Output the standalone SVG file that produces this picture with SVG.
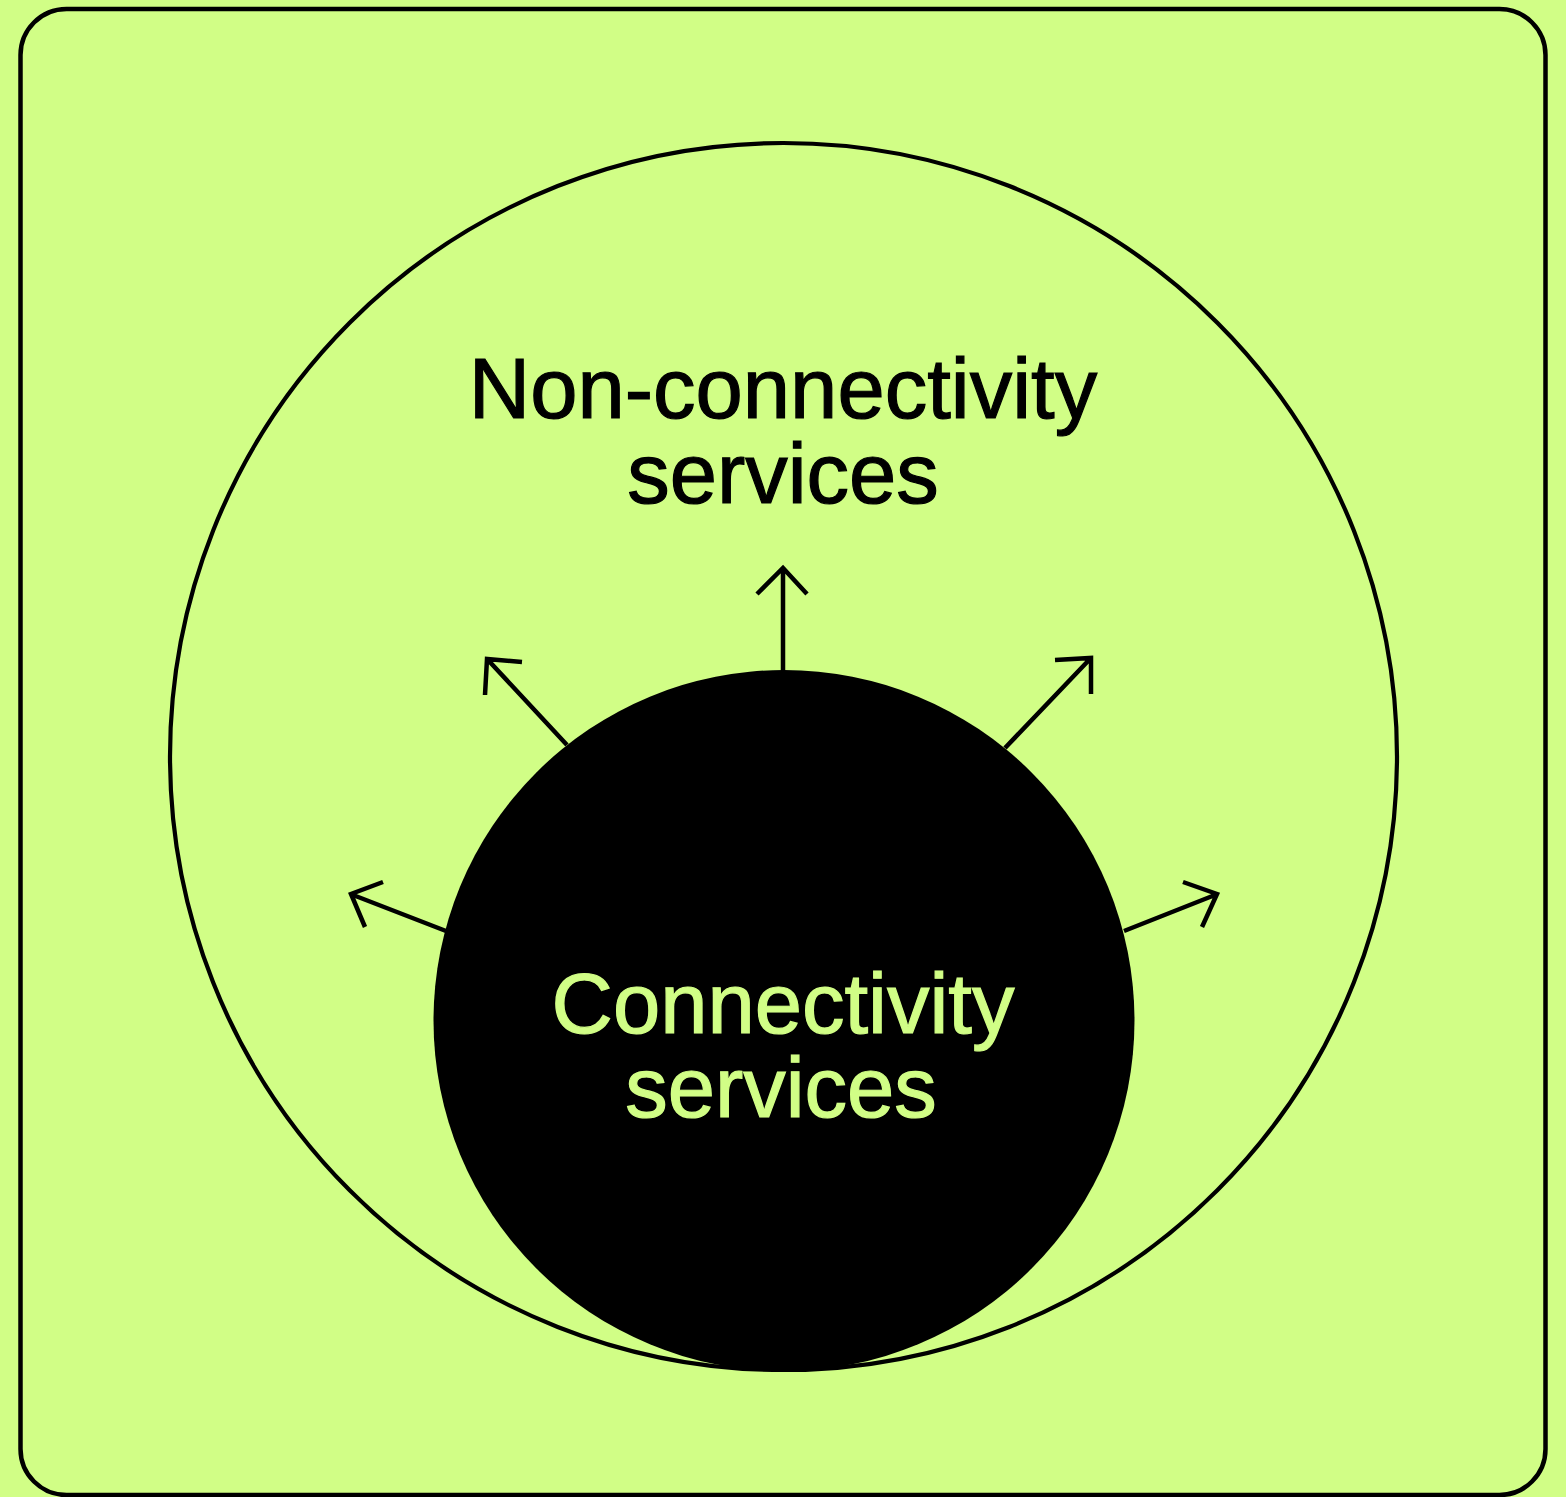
<svg xmlns="http://www.w3.org/2000/svg" width="1566" height="1497" viewBox="0 0 1566 1497">
<style>
.ln{fill:none;stroke:#000;stroke-width:4.5;stroke-linecap:butt;stroke-linejoin:miter}
.lbl{font-family:"Liberation Sans",Arial,sans-serif;font-size:85px;text-anchor:middle;stroke-width:1.2}
.dark{fill:#000;stroke:#000}
.lime{fill:#d1fe86;stroke:#d1fe86}
</style>
<rect x="0" y="0" width="1566" height="1497" fill="#d1fe86"/>
<rect x="20.5" y="9" width="1525" height="1486" rx="46" ry="46" fill="#d1fe86" stroke="#000" stroke-width="4.5"/>
<g id="outer">
<circle cx="783.5" cy="756.5" r="613.5" fill="none" stroke="#000" stroke-width="4.2"/>
<text class="lbl dark" x="783" y="418">Non-connectivity</text>
<text class="lbl dark" x="783" y="503">services</text>
</g>
<g id="connectors">
<path class="ln" d="M783 672 V570 M757 594 L783 568 L807 594"/>
<path class="ln" d="M567 745 L488 660 M522 662 L487 659 L485 695"/>
<path class="ln" d="M1005 748 L1089 660 M1055 660 L1091 658 L1091 694"/>
<path class="ln" d="M446 931 L353 895 M383 882 L351 894 L365 927"/>
<path class="ln" d="M1124 931 L1215 895 M1183 882 L1217 894 L1202 927"/>
</g>
<g id="inner">
<circle cx="784" cy="1020.5" r="350.5" fill="#000"/>
<text class="lbl lime" x="783" y="1033">Connectivity</text>
<text class="lbl lime" x="781" y="1117">services</text>
</g>
</svg>
